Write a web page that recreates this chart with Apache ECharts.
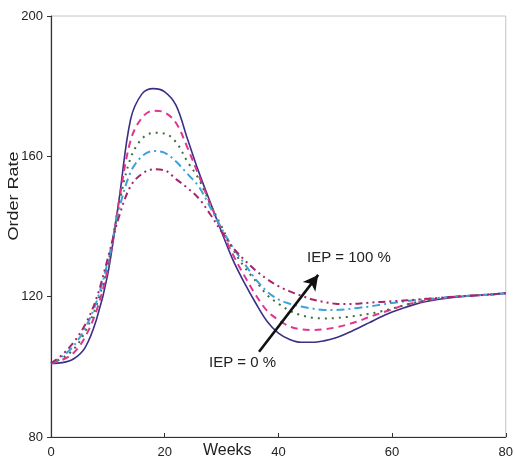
<!DOCTYPE html>
<html>
<head>
<meta charset="utf-8">
<script src="https://cdn.jsdelivr.net/npm/echarts@6/dist/echarts.min.js"></script>
<style>
  html, body { margin: 0; padding: 0; background: #ffffff; }
  #chart { width: 516px; height: 464px; }
</style>
</head>
<body>
<div id="chart"></div>
<script>
// Weeks sampled every two weeks
const weeks = [0,2,4,6,8,10,12,14,16,18,20,22,24,26,28,30,32,34,36,38,40,42,44,46,48,50,52,54,56,58,60,62,64,66,68,70,72,74,76,78,80];

// Order rate for each inventory-error percentage (IEP)
const iep0 = [101,101.2,102.3,105.5,113.5,126.5,148,170.5,177.8,179.3,178.4,174.5,165,155.5,147,138.5,130.5,124,118.2,113,109.6,107.8,107,107,107.4,108.2,109.5,111,112.6,114.2,115.6,116.8,117.8,118.6,119.2,119.6,120,120.2,120.5,120.7,121];
const iep25 = [101,102,104,108.5,116,128,147.5,164.5,171,173,172.5,169.5,162.5,154.5,146.5,139,132,126,120.5,116,113.4,111.5,110.7,110.5,110.7,111.2,112,113,114.2,115.3,116.4,117.5,118.3,118.9,119.4,119.8,120.1,120.3,120.5,120.7,121];
const iep50 = [101,102.5,105,110,117.5,129,146.5,159.5,165,166.7,166.5,164,158.5,153.5,146.5,140,133.5,128.5,124.5,120.5,118,116,114.7,114,113.8,113.9,114.2,114.6,115.1,115.8,116.6,117.5,118.3,118.9,119.4,119.8,120.1,120.3,120.5,120.7,121];
const iep75 = [101,103,106,111,118.5,130,145,155.5,160,161.5,161,158.5,155,151.4,145.5,139.5,134,129.5,125,121.5,119.2,118,117.2,116.6,116.2,116.2,116.4,116.8,117.2,117.7,118.2,118.6,119,119.3,119.6,119.9,120.1,120.3,120.5,120.7,121];
const iep100 = [101,103.5,107,112,119.5,131,143,151.5,155,156.3,156,153.5,151,148,143.5,138.5,134,130.5,127.5,125,123,121.5,120.3,119.2,118.5,118,117.9,118,118.3,118.5,118.7,118.9,119.1,119.4,119.6,119.9,120.1,120.3,120.5,120.7,121];

// Axis ticks
const xTicks = [0, 20, 40, 60, 80];
const yTicks = [80, 120, 160, 200];

// Arrow from the IEP = 0 % curve towards the IEP = 100 % curve
const arrowFrom = [36.6, 104.3];
const arrowTo = [47.0, 126.2];

const pair = (ys) => weeks.map((w, i) => [w, ys[i]]);

const seriesDefs = [
  { name: 'IEP = 0 %',   data: iep0,   color: '#3b2f86', type: 'solid',  width: 1.6 },
  { name: 'IEP = 25 %',  data: iep25,  color: '#e0358f', type: [7, 5],   width: 2 },
  { name: 'IEP = 50 %',  data: iep50,  color: '#3d6e3d', type: [2, 5],   width: 2 },
  { name: 'IEP = 75 %',  data: iep75,  color: '#3aa3dc', type: [8, 4, 2, 4], width: 2 },
  { name: 'IEP = 100 %', data: iep100, color: '#a8246a', type: [7, 4, 2, 4, 2, 4], width: 2 }
];

const series = seriesDefs.map((s) => ({
  name: s.name,
  type: 'line',
  data: pair(s.data),
  smooth: 0.35,
  showSymbol: false,
  symbol: 'none',
  lineStyle: { color: s.color, width: s.width, type: s.type },
  z: 3,
  animation: false
}));

series[0].markLine = {
  silent: true,
  symbol: ['none', 'arrow'],
  symbolSize: [12, 15],
  label: { show: false },
  lineStyle: { color: '#111', width: 2.6, type: 'solid' },
  data: [[{ coord: arrowFrom }, { coord: arrowTo }]],
  animation: false
};

const labelFont = '"Liberation Sans", Arial, sans-serif';

const chart = echarts.init(document.getElementById('chart'), null, { renderer: 'canvas' });
chart.setOption({
  backgroundColor: '#ffffff',
  animation: false,
  grid: {
    left: 51, right: 5, top: 16, bottom: 27,
    show: true, borderColor: '#c4c4c8', borderWidth: 1, backgroundColor: 'transparent'
  },
  xAxis: {
    type: 'value', min: 0, max: 80, interval: 20,
    axisLine: { show: true, lineStyle: { color: '#3a3030', width: 1.2 } },
    axisTick: { show: true, inside: true, length: 4, lineStyle: { color: '#3a3030' } },
    axisLabel: {
      color: '#222', fontFamily: labelFont, fontSize: 13, margin: 9,
      formatter: (v) => (xTicks.includes(v) ? String(v) : '')
    },
    splitLine: { show: false }
  },
  yAxis: {
    type: 'value', min: 80, max: 200, interval: 40,
    axisLine: { show: true, lineStyle: { color: '#3a3030', width: 1.2 } },
    axisTick: { show: true, inside: false, length: 4, lineStyle: { color: '#3a3030' } },
    axisLabel: {
      color: '#222', fontFamily: labelFont, fontSize: 13, margin: 8,
      formatter: (v) => (yTicks.includes(v) ? String(v) : '')
    },
    splitLine: { show: false }
  },
  graphic: [
    { type: 'text', left: 203, top: 443,
      style: { text: 'Weeks', fill: '#222', font: '16px ' + labelFont } },
    { type: 'text', x: 14, y: 196, rotation: Math.PI / 2, scaleX: 1.2,
      style: { text: 'Order Rate', fill: '#222', font: '15px ' + labelFont,
               align: 'center', verticalAlign: 'middle' } },
    { type: 'text', left: 307, top: 250,
      style: { text: 'IEP = 100 %', fill: '#222', font: '15px ' + labelFont } },
    { type: 'text', left: 209, top: 355,
      style: { text: 'IEP = 0 %', fill: '#222', font: '15px ' + labelFont } }
  ],
  series: series
});
</script>
</body>
</html>
